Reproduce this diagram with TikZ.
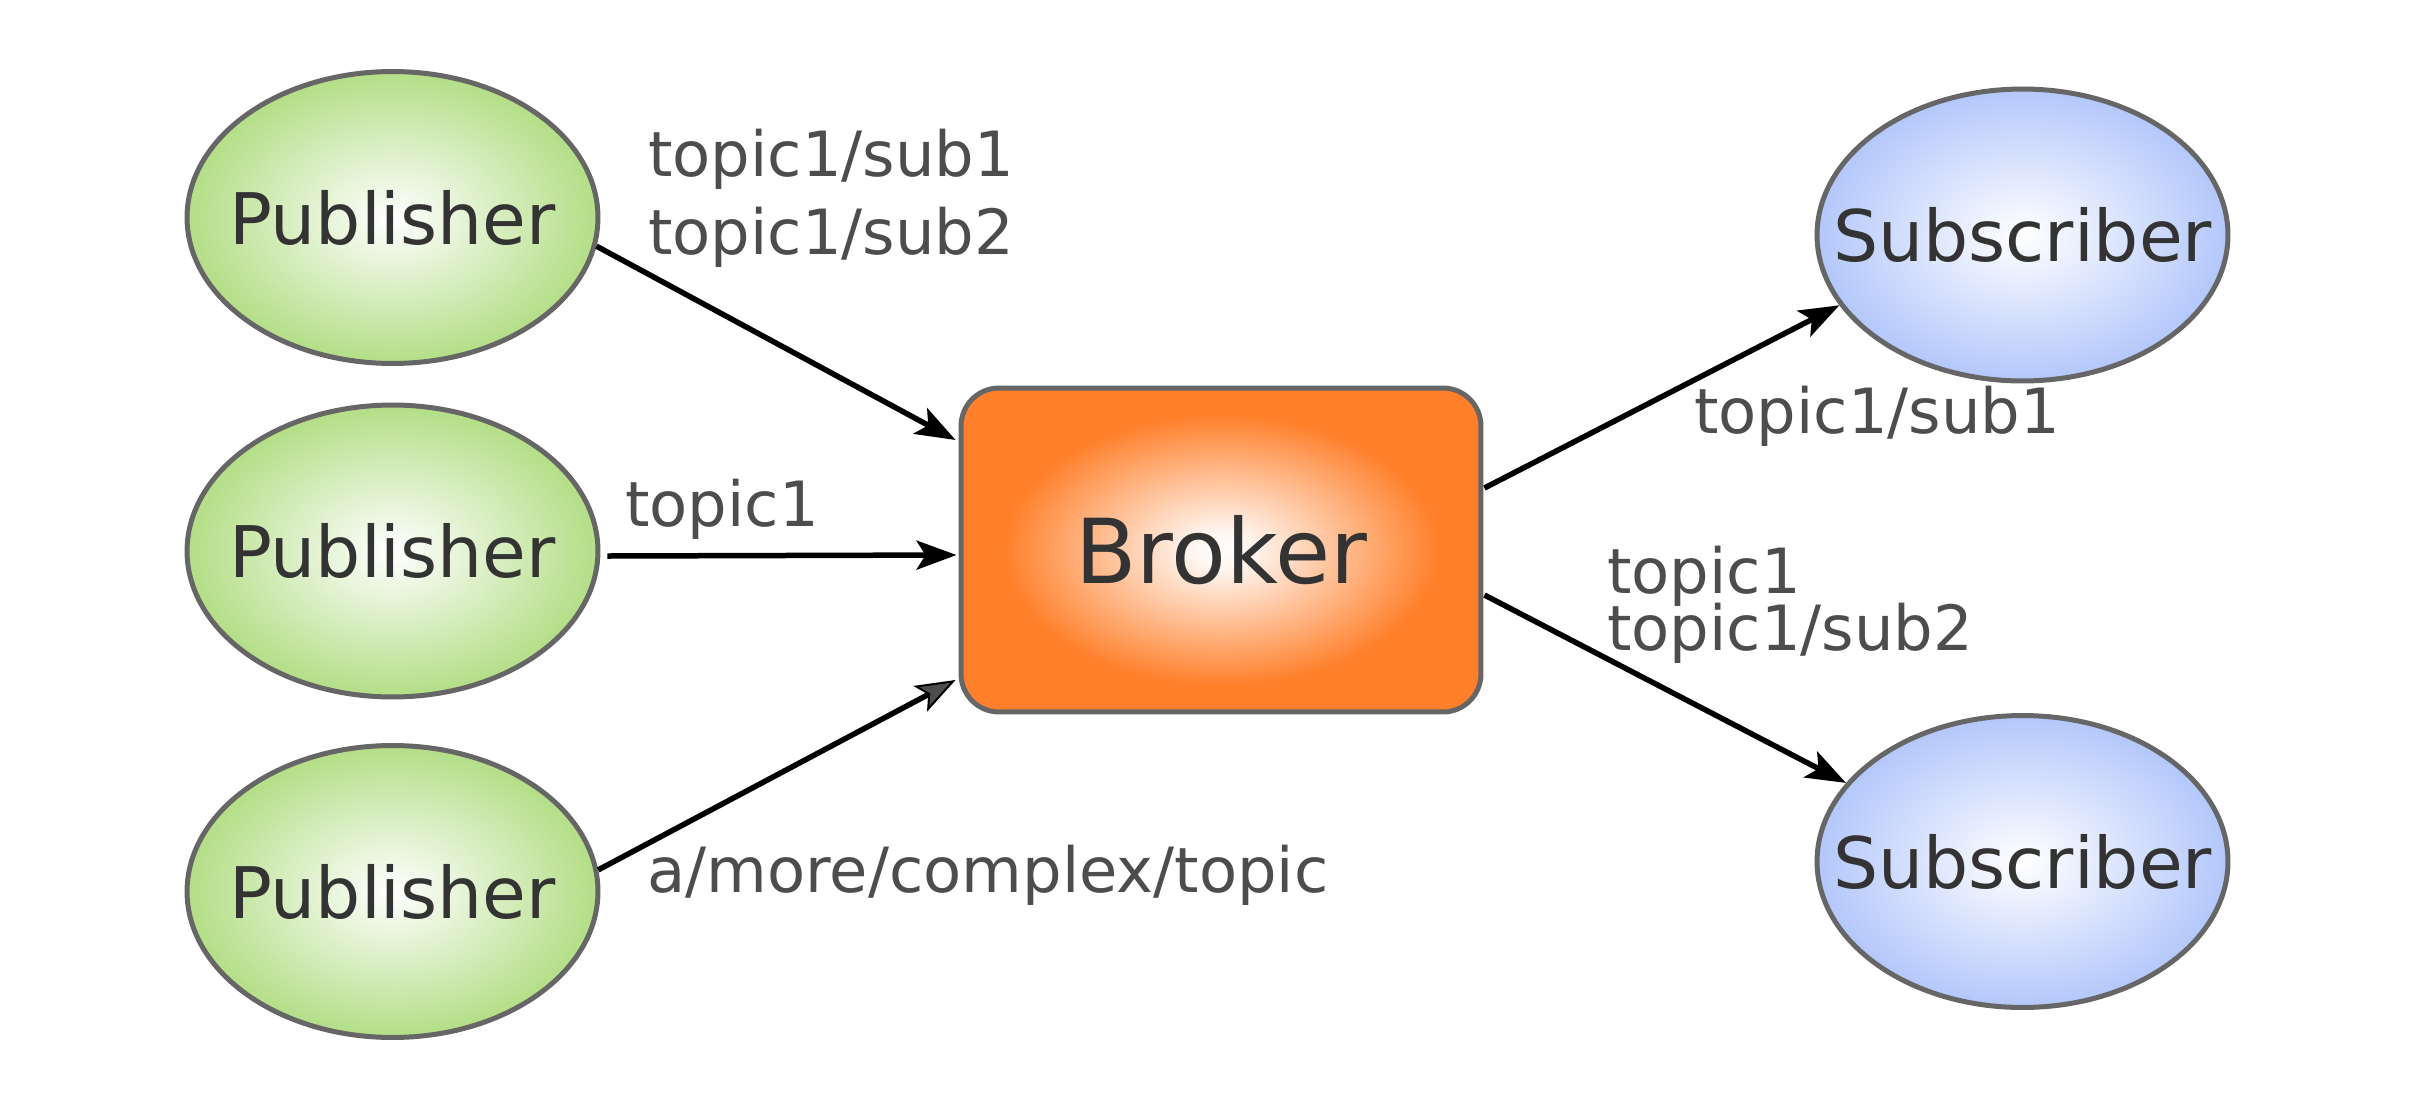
\documentclass[tikz,border=0pt]{standalone}
\usepackage{fontspec}
\setmainfont{DejaVu Sans}
\usetikzlibrary{arrows.meta,shapes.geometric,calc}

\definecolor{pubgreen}{HTML}{B3DE86}
\definecolor{subblue}{HTML}{B3C7FB}
\definecolor{brokerorange}{HTML}{FF7F2A}
\definecolor{edgegray}{HTML}{666666}
\definecolor{nametext}{HTML}{333333}
\definecolor{topictext}{HTML}{4D4D4D}

% radial fills: light centre fading to the node colour
\pgfdeclareradialshading{pubshade}{\pgfpoint{0bp}{0bp}}{color(0bp)=(white); color(25bp)=(pubgreen); color(50bp)=(pubgreen)}
\pgfdeclareradialshading{subshade}{\pgfpoint{0bp}{0bp}}{color(0bp)=(white); color(25bp)=(subblue); color(50bp)=(subblue)}
\pgfdeclareradialshading{brokershade}{\pgfpoint{0bp}{0bp}}{color(0bp)=(white); color(3bp)=(white!92!brokerorange); color(21bp)=(brokerorange); color(50bp)=(brokerorange)}

\begin{document}
\begin{tikzpicture}[x=0.02cm, y=-0.02cm,
  client/.style={ellipse, draw=edgegray, line width=0.1cm, inner sep=0pt,
    minimum width=8.22cm, minimum height=5.84cm, text=nametext,
    font=\fontsize{40.5pt}{49pt}\selectfont},
  publisher/.style={client, shading=pubshade},
  subscriber/.style={client, shading=subshade},
  brokerbox/.style={rectangle, rounded corners=0.76cm, draw=edgegray, line width=0.1cm,
    minimum width=10.4cm, minimum height=6.48cm, shading=brokershade, text=nametext,
    font=\fontsize{51pt}{61pt}\selectfont},
  topic/.style={anchor=base west, inner sep=0pt, text=topictext,
    font=\fontsize{35.5pt}{42pt}\selectfont},
  arr/.style={line width=0.11cm, -{Stealth[length=0.8cm, width=0.58cm, inset=0.18cm]}},
  grayarr/.style={line width=0.11cm, -{Stealth[length=0.8cm, width=0.58cm, inset=0.18cm, fill=topictext, line width=0.04cm]}}
]
\useasboundingbox (0,0) rectangle (2416,1109);

% clients and broker
\node[publisher] (p1) at (392.5,217.5) {\makebox[0pt]{Publisher}};
\node[publisher] (p2) at (392.5,551) {\makebox[0pt]{Publisher}};
\node[publisher] (p3) at (392.5,891.5) {\makebox[0pt]{Publisher}};
\node[subscriber] (s1) at (2022.5,235) {\makebox[0pt]{Subscriber}};
\node[subscriber] (s2) at (2022.5,861.5) {\makebox[0pt]{Subscriber}};
\node[brokerbox] (b) at (1221,550) {Broker};

% message flows
\draw[arr] (p1.-8) -- ($(b.west)+(-3,-110)$);
\draw[arr] ($(p2.east)+(7,5)$) -- ($(b.west)+(-2,5)$);
\draw[grayarr] (p3.6) -- ($(b.west)+(-3,130)$);
\draw[arr] ($(b.east)+(1,-62)$) -- (s1.201);
\draw[arr] ($(b.east)+(1,45)$) -- (s2.156);

% topic labels
\node[topic] (t1a) at (648,176) {topic1/sub1};
\node[topic] (t1b) at (648,254) {topic1/sub2};
\node[topic] (t2) at (625,526) {topic1};
\node[topic] (t3) at (647,892) {a/more/complex/topic};
\node[topic] (t4) at (1694,433) {topic1/sub1};
\node[topic] (t5a) at (1607,593) {topic1};
\node[topic] (t5b) at (1607,650) {topic1/sub2};
\end{tikzpicture}
\end{document}
